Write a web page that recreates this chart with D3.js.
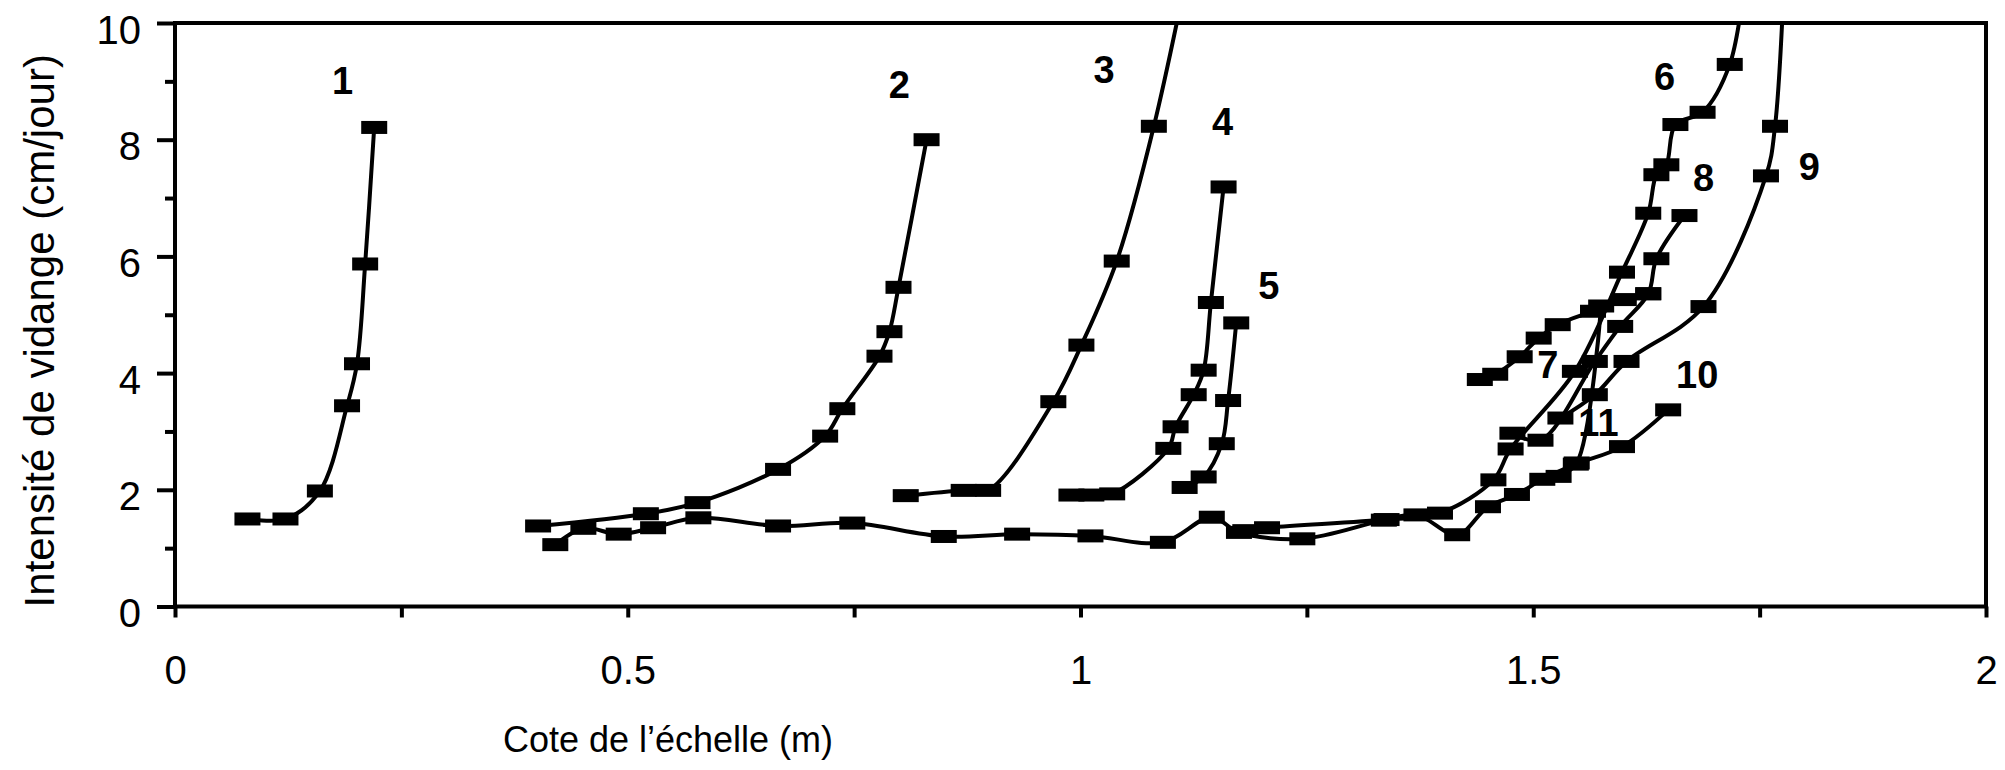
<!DOCTYPE html>
<html><head><meta charset="utf-8">
<script src="https://cdn.jsdelivr.net/npm/d3@7"></script>
<style>body{margin:0;background:#fff}svg{display:block}</style>
</head><body>
<svg id="chart" width="2005" height="770"></svg>
<script>
// ---- data (x = Cote de l'échelle in m, y = Intensité de vidange in cm/jour) ----
const seriesNames = ["1","2","3","4","5","6","7","8","9","10","11"];
const s1 = [[0.080,1.50],[0.122,1.50],[0.160,1.98],[0.190,3.44],[0.201,4.16],[0.210,5.87],[0.220,8.21]];
const s2 = [[0.401,1.38],[0.520,1.59],[0.577,1.78],[0.666,2.35],[0.718,2.92],[0.737,3.39],[0.778,4.29],[0.789,4.71],[0.799,5.47],[0.830,8.00]];
const s3 = [[0.807,1.90],[0.871,1.99],[0.898,1.99],[0.970,3.51],[1.001,4.48],[1.040,5.92],[1.081,8.23],[1.130,11.8]];
const s4 = [[0.990,1.91],[1.012,1.91],[1.035,1.93],[1.097,2.71],[1.105,3.08],[1.125,3.63],[1.136,4.05],[1.144,5.21],[1.158,7.19]];
const s5 = [[1.115,2.04],[1.136,2.22],[1.156,2.79],[1.163,3.53],[1.172,4.86]];
const s6 = [[1.182,1.30],[1.206,1.35],[1.338,1.49],[1.397,1.60],[1.456,2.17],[1.475,2.70],[1.546,4.03],[1.598,5.73],[1.627,6.74],[1.636,7.40],[1.647,7.57],[1.657,8.26],[1.687,8.47],[1.717,9.29],[1.735,10.9]];
const s7 = [[1.441,3.89],[1.458,3.98],[1.485,4.28],[1.506,4.60],[1.527,4.83],[1.566,5.06],[1.600,5.26],[1.627,5.36]];
const s8 = [[1.477,2.97],[1.508,2.85],[1.568,4.20],[1.596,4.80],[1.627,5.36],[1.636,5.96],[1.667,6.70]];
const s9 = [[1.530,3.23],[1.568,3.63],[1.603,4.20],[1.688,5.14],[1.757,7.38],[1.767,8.23],[1.779,11.5]];
const s10 = [[0.420,1.06],[0.451,1.34],[0.490,1.24],[0.528,1.35],[0.578,1.52],[0.666,1.38],[0.748,1.43],[0.849,1.20],[0.930,1.24],[1.011,1.21],[1.091,1.10],[1.145,1.53],[1.175,1.27],[1.245,1.16],[1.335,1.48],[1.371,1.57],[1.416,1.23],[1.450,1.71],[1.482,1.92],[1.510,2.18],[1.547,2.44],[1.598,2.74],[1.649,3.37]];
const s11 = [[1.528,2.23],[1.548,2.46],[1.575,5.15]];
const seriesValues = [s1,s2,s3,s4,s5,s6,s7,s8,s9,s10,s11];
// label anchor for each curve number, in data units
const labelAt = [[0.185,9.0],[0.800,8.93],[1.026,9.20],[1.157,8.31],[1.208,5.50],[1.645,9.08],[1.516,4.14],[1.688,7.35],[1.805,7.54],[1.681,3.97],[1.572,3.15]];
const xTickValues = [0,0.25,0.5,0.75,1,1.25,1.5,1.75,2];
const xTickLabels = {0:"0",0.5:"0.5",1:"1",1.5:"1.5",2:"2"};
const yMajorTicks = [0,2,4,6,8,10];
const yMinorTicks = [1,3,5,7,9];
const xTitle = "Cote de l’échelle (m)";
const yTitle = "Intensité de vidange (cm/jour)";

// ---- layout ----
const L = 175, R = 1986, T = 23, B = 606.5;
const svg = d3.select("#chart");
const x = d3.scaleLinear().domain([0,2]).range([L,R]);
const y = d3.scaleLinear().domain([0,10]).range([B,T]);
const font = "'Liberation Sans', Arial, sans-serif";

svg.append("defs").append("clipPath").attr("id","plot")
  .append("rect").attr("x",L).attr("y",T).attr("width",R-L).attr("height",B-T);

// frame
svg.append("rect").attr("x",L).attr("y",T).attr("width",R-L).attr("height",B-T)
  .attr("fill","none").attr("stroke","#000").attr("stroke-width",4);

// x axis
const gx = svg.append("g").attr("transform",`translate(0,${B})`)
  .call(d3.axisBottom(x).tickValues(xTickValues).tickSize(11).tickPadding(38)
    .tickFormat(d => xTickLabels[d] !== undefined ? xTickLabels[d] : ""));
gx.select(".domain").remove();
gx.selectAll(".tick line").attr("stroke","#000").attr("stroke-width",4);
gx.selectAll(".tick text").attr("font-family",font).attr("font-size",40).attr("fill","#000");

// y axis major
const gy = svg.append("g").attr("transform",`translate(${L},0)`)
  .call(d3.axisLeft(y).tickValues(yMajorTicks).tickSize(18).tickPadding(16));
gy.select(".domain").remove();
gy.selectAll(".tick line").attr("stroke","#000").attr("stroke-width",4);
gy.selectAll(".tick text").attr("font-family",font).attr("font-size",40).attr("fill","#000").attr("dy","0.5em");
// y axis minor
const gy2 = svg.append("g").attr("transform",`translate(${L},0)`)
  .call(d3.axisLeft(y).tickValues(yMinorTicks).tickSize(10).tickFormat(""));
gy2.select(".domain").remove();
gy2.selectAll(".tick line").attr("stroke","#000").attr("stroke-width",4);

// titles
svg.append("text").attr("x",668).attr("y",752).attr("text-anchor","middle")
  .attr("font-family",font).attr("font-size",36).text(xTitle);
svg.append("text").attr("transform",`translate(54,${(T+B)/2+16}) rotate(-90)`).attr("text-anchor","middle")
  .attr("font-family",font).attr("font-size",42).text(yTitle);

// series
const line = d3.line().x(d=>x(d[0])).y(d=>y(d[1])).curve(d3.curveCatmullRom.alpha(0.5));
const plot = svg.append("g").attr("clip-path","url(#plot)");
seriesValues.forEach((s,i)=>{
  plot.append("path").datum(s).attr("d",line).attr("fill","none")
    .attr("stroke","#000").attr("stroke-width",4);
});
seriesValues.forEach((s,i)=>{
  plot.append("g").selectAll("rect").data(s.filter(d=>d[1]<=10)).join("rect")
    .attr("x",d=>x(d[0])-13).attr("y",d=>y(d[1])-6.5).attr("width",26).attr("height",13)
    .attr("fill","#000");
});
// curve numbers
svg.append("g").selectAll("text").data(seriesNames).join("text")
  .attr("x",(d,i)=>x(labelAt[i][0])).attr("y",(d,i)=>y(labelAt[i][1]))
  .attr("text-anchor","middle").attr("dominant-baseline","central")
  .attr("font-family",font).attr("font-weight","bold").attr("font-size",38)
  .text(d=>d);
</script>
</body></html>
